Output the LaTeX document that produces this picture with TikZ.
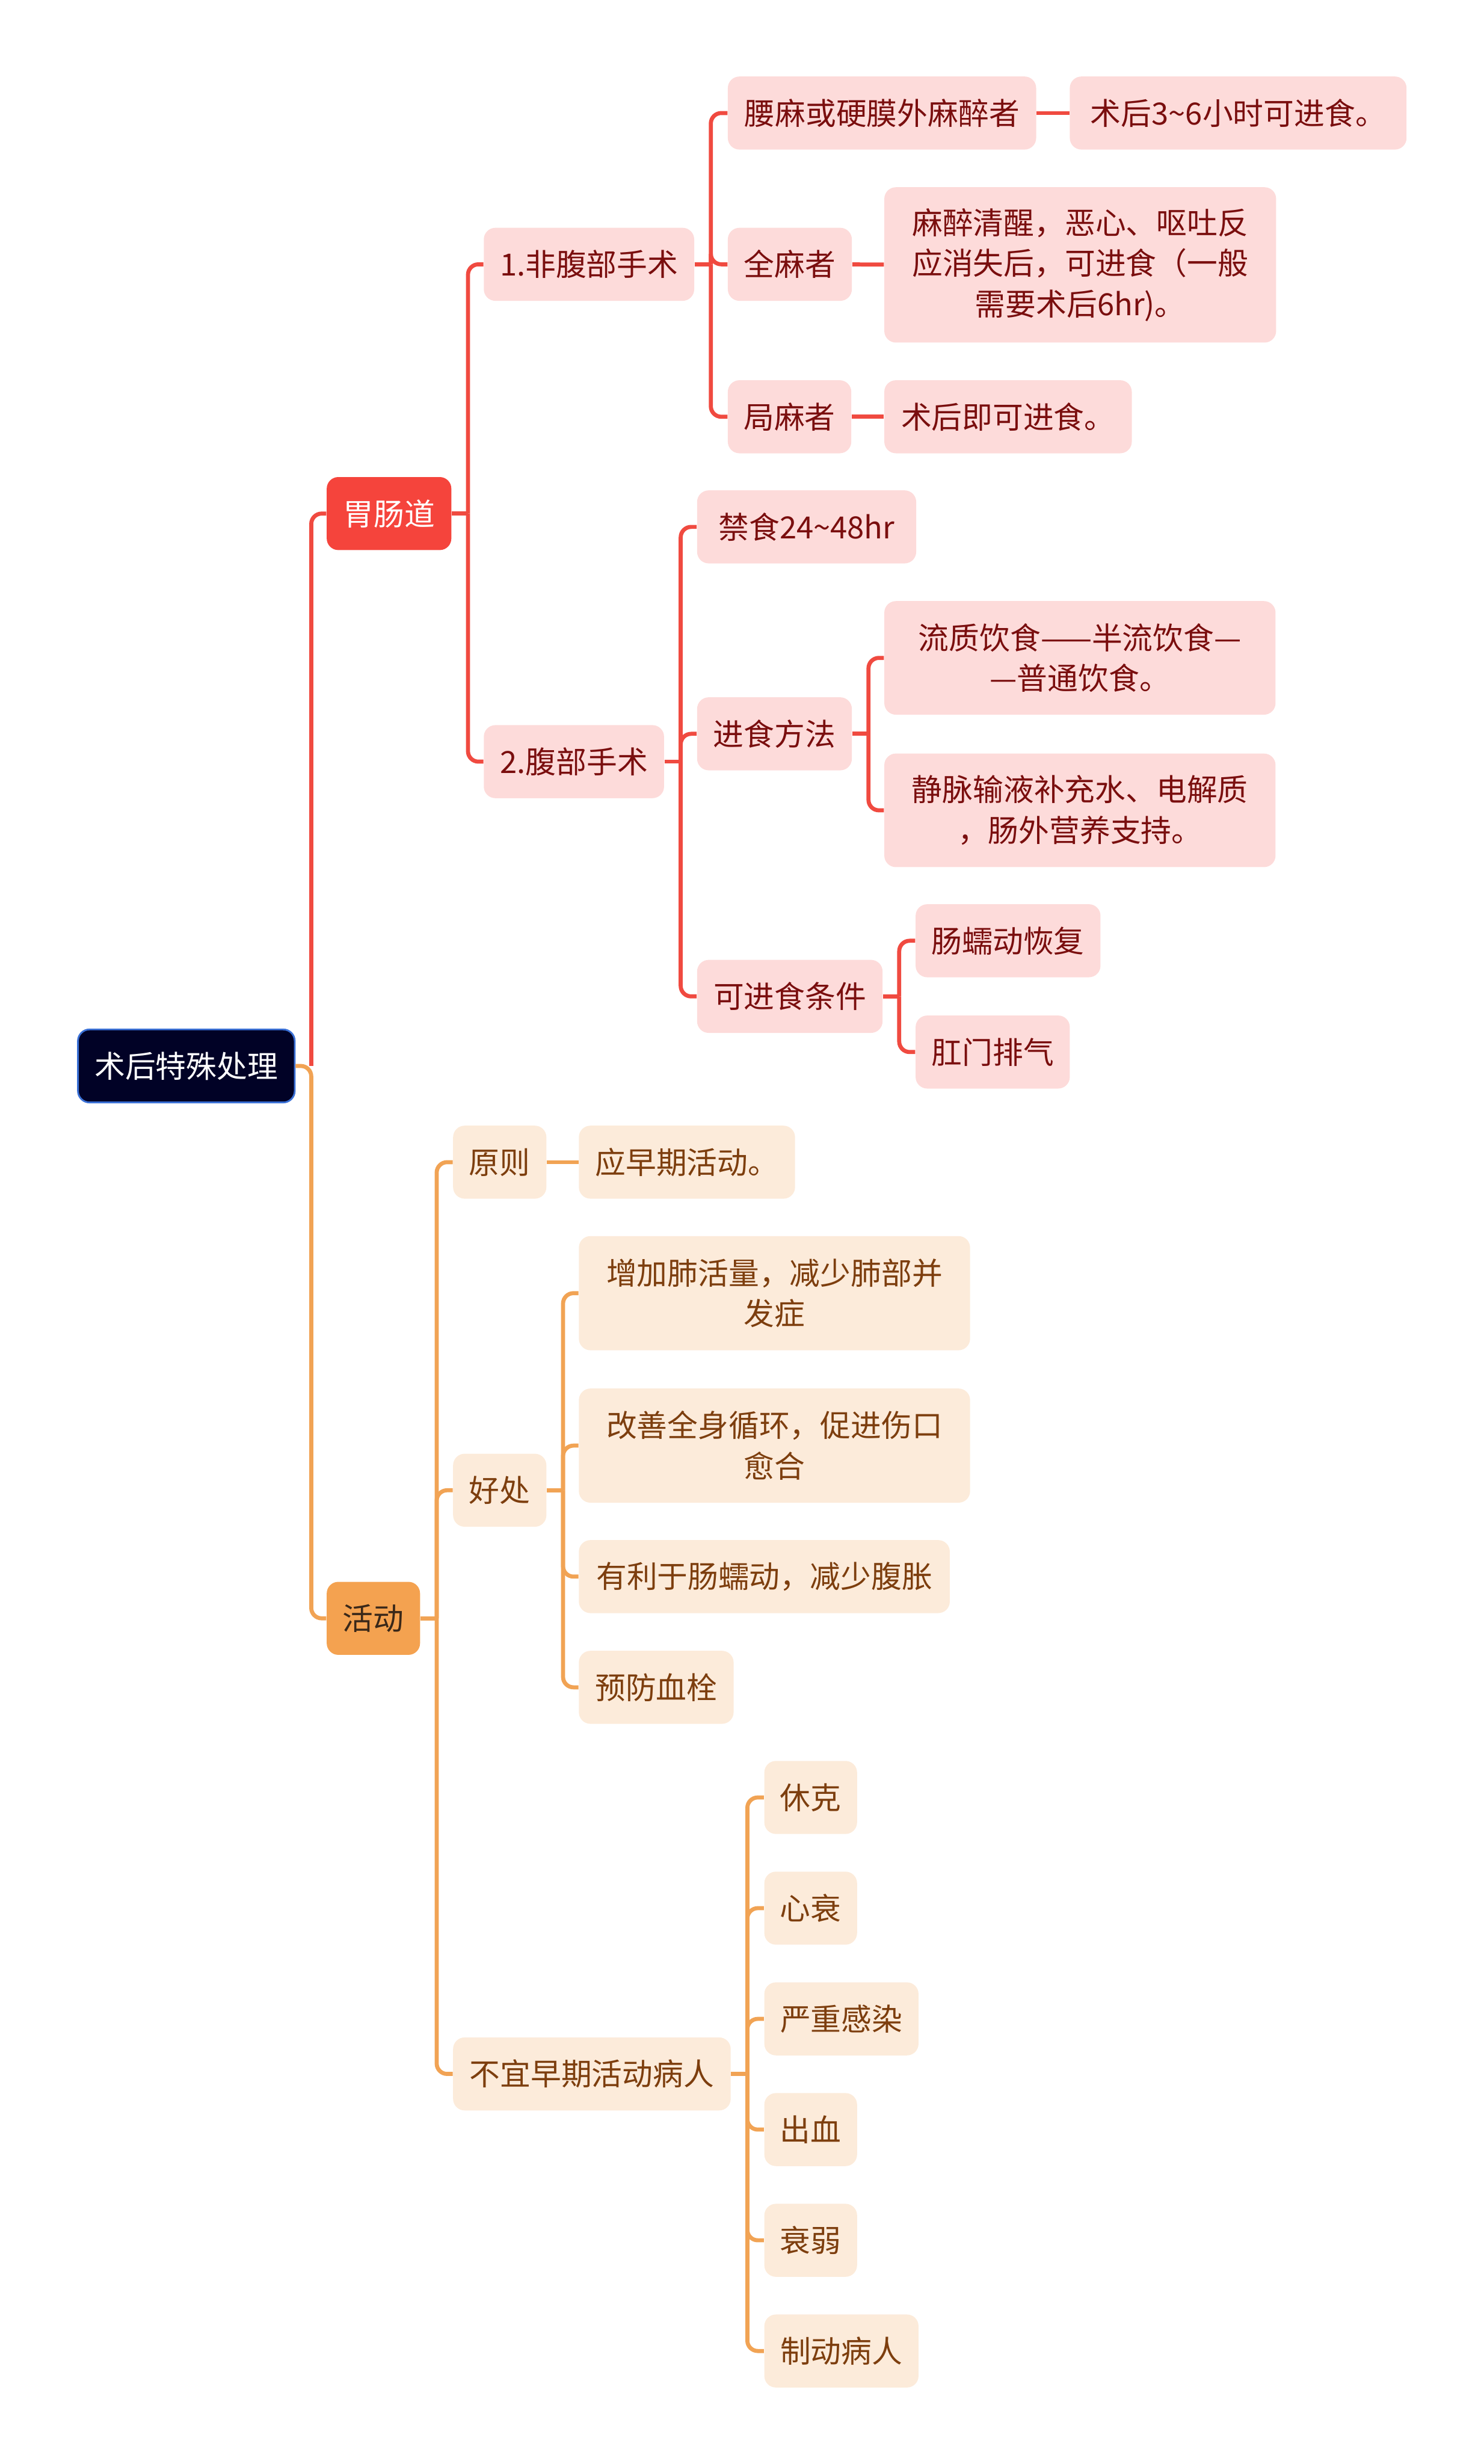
\documentclass[tikz,border=0pt]{standalone}
\usepackage{fontspec}
\setmainfont{Noto Sans CJK SC}
\usepackage{xcolor}
\usepackage{tikz}
\usetikzlibrary{positioning, calc}
\definecolor{rootnavy}{RGB}{1,2,38}
\definecolor{rootblue}{RGB}{58,112,214}
\definecolor{gutred}{RGB}{245,68,60}
\definecolor{linered}{RGB}{240,74,64}
\definecolor{pinkbg}{RGB}{253,219,218}
\definecolor{darkred}{RGB}{122,14,14}
\definecolor{orgfill}{RGB}{244,162,80}
\definecolor{orgtext}{RGB}{58,40,25}
\definecolor{lineorg}{RGB}{241,163,84}
\definecolor{creambg}{RGB}{252,235,218}
\definecolor{browntext}{RGB}{125,62,14}

\begin{document}
\begin{tikzpicture}[
  every node/.style={font=\fontsize{15}{20}\selectfont, inner sep=0pt,
        align=center, anchor=west, rounded corners=0.2cm,
        minimum height=1.26cm},
  rootbox/.style={fill=rootnavy, draw=rootblue, line width=0.03cm, text=white},
  redhead/.style={fill=gutred, text=white},
  pinkbox/.style={fill=pinkbg, text=darkred},
  orghead/.style={fill=orgfill, text=orgtext},
  creambox/.style={fill=creambg, text=browntext},
  redlink/.style={draw=linered, line width=0.07cm, rounded corners=0.18cm},
  orglink/.style={draw=lineorg, line width=0.07cm, rounded corners=0.18cm}]
  \useasboundingbox (0,0) rectangle (25.60,-42.51);

  \node[rootbox, minimum width=3.74cm] (root) at (1.33,-18.39) {术后特殊处理};
  \node[redhead, minimum width=2.15cm] (gut) at (5.63,-8.86) {胃肠道};
  \node[orghead, minimum width=1.61cm] (act) at (5.63,-27.92) {活动};

  % 胃肠道
  \node[pinkbox, minimum width=3.63cm] (fei) at (8.34,-4.56) {1.非腹部手术};
  \node[pinkbox, minimum width=3.11cm] (fubu) at (8.34,-13.14) {2.腹部手术};
  \node[pinkbox, minimum width=5.32cm] (yaoma) at (12.55,-1.95) {腰麻或硬膜外麻醉者};
  \node[pinkbox, minimum width=2.14cm] (quanma) at (12.55,-4.56) {全麻者};
  \node[pinkbox, minimum width=2.13cm] (juma) at (12.55,-7.19) {局麻者};
  \node[pinkbox, minimum width=5.81cm] (yaomaL) at (18.45,-1.95)
    {术后3\textasciitilde6小时可进食。};
  \node[pinkbox, minimum width=6.76cm, minimum height=2.68cm] (quanmaL) at (15.25,-4.57)
    {麻醉清醒，恶心、呕吐反\\应消失后，可进食（一般\\需要术后6hr)。};
  \node[pinkbox, minimum width=4.27cm] (jumaL) at (15.25,-7.19) {术后即可进食。};
  \node[pinkbox, minimum width=3.78cm] (jinshi) at (12.02,-9.09) {禁食24\textasciitilde48hr};
  \node[pinkbox, minimum width=2.67cm] (fangfa) at (12.02,-12.66) {进食方法};
  \node[pinkbox, minimum width=3.20cm] (tiaojian) at (12.02,-17.19) {可进食条件};
  \node[pinkbox, minimum width=6.75cm, minimum height=1.96cm] (liuzhi) at (15.25,-11.35)
    {流质饮食——半流饮食—\\—普通饮食。};
  \node[pinkbox, minimum width=6.75cm, minimum height=1.96cm] (jingmai) at (15.25,-13.98)
    {静脉输液补充水、电解质\\，肠外营养支持。};
  \node[pinkbox, minimum width=3.19cm] (rudong) at (15.79,-16.23) {肠蠕动恢复};
  \node[pinkbox, minimum width=2.66cm] (paiqi) at (15.79,-18.15) {肛门排气};

  % 活动
  \node[creambox, minimum width=1.61cm] (yuanze) at (7.81,-20.05) {原则};
  \node[creambox, minimum width=1.61cm] (haochu) at (7.81,-25.71) {好处};
  \node[creambox, minimum width=4.79cm] (buyi) at (7.81,-35.78) {不宜早期活动病人};
  \node[creambox, minimum width=3.73cm] (zaoqi) at (9.98,-20.05) {应早期活动。};
  \node[creambox, minimum width=6.75cm, minimum height=1.97cm] (feihuo) at (9.98,-22.31)
    {增加肺活量，减少肺部并\\发症};
  \node[creambox, minimum width=6.75cm, minimum height=1.97cm] (xunhuan) at (9.98,-24.94)
    {改善全身循环，促进伤口\\愈合};
  \node[creambox, minimum width=6.40cm] (fuzhang) at (9.98,-27.20) {有利于肠蠕动，减少腹胀};
  \node[creambox, minimum width=2.67cm] (xueshuan) at (9.98,-29.11) {预防血栓};
  \node[creambox, minimum width=1.60cm] (xiuke) at (13.18,-31.01) {休克};
  \node[creambox, minimum width=1.60cm] (xinshuai) at (13.18,-32.92) {心衰};
  \node[creambox, minimum width=2.66cm] (ganran) at (13.18,-34.83) {严重感染};
  \node[creambox, minimum width=1.60cm] (chuxue) at (13.18,-36.74) {出血};
  \node[creambox, minimum width=1.60cm] (shuairuo) at (13.18,-38.65) {衰弱};
  \node[creambox, minimum width=2.66cm] (zhidong) at (13.18,-40.56) {制动病人};

  % connectors
  \coordinate (rootT) at ($(root.east)+(0.27,0)$);
  \draw[redlink] (rootT) |- (gut.west);
  \draw[orglink] (root.east) -- (rootT) |- (act.west);

  \draw[redlink] (gut.east) -- ++(0.28,0) coordinate (gutT);
  \draw[redlink] (gutT) |- (fei.west);
  \draw[redlink] (gutT) |- (fubu.west);
  \draw[redlink] (fei.east) -- ++(0.28,0) coordinate (feiT);
  \foreach \c in {yaoma,quanma,juma}
    \draw[redlink] (feiT) |- (\c.west);
  \draw[redlink] (yaoma) -- (yaomaL);
  \draw[redlink] (quanma) -- (quanmaL);
  \draw[redlink] (juma) -- (jumaL);
  \draw[redlink] (fubu.east) -- ++(0.28,0) coordinate (fubuT);
  \foreach \c in {jinshi,fangfa,tiaojian}
    \draw[redlink] (fubuT) |- (\c.west);
  \draw[redlink] (fangfa.east) -- ++(0.28,0) coordinate (fangfaT);
  \draw[redlink] (fangfaT) |- (liuzhi.west);
  \draw[redlink] (fangfaT) |- (jingmai.west);
  \draw[redlink] (tiaojian.east) -- ++(0.28,0) coordinate (tiaojianT);
  \draw[redlink] (tiaojianT) |- (rudong.west);
  \draw[redlink] (tiaojianT) |- (paiqi.west);

  \draw[orglink] (act.east) -- ++(0.28,0) coordinate (actT);
  \foreach \c in {yuanze,haochu,buyi}
    \draw[orglink] (actT) |- (\c.west);
  \draw[orglink] (yuanze) -- (zaoqi);
  \draw[orglink] (haochu.east) -- ++(0.28,0) coordinate (haochuT);
  \foreach \c in {feihuo,xunhuan,fuzhang,xueshuan}
    \draw[orglink] (haochuT) |- (\c.west);
  \draw[orglink] (buyi.east) -- ++(0.28,0) coordinate (buyiT);
  \foreach \c in {xiuke,xinshuai,ganran,chuxue,shuairuo,zhidong}
    \draw[orglink] (buyiT) |- (\c.west);
\end{tikzpicture}
\end{document}
